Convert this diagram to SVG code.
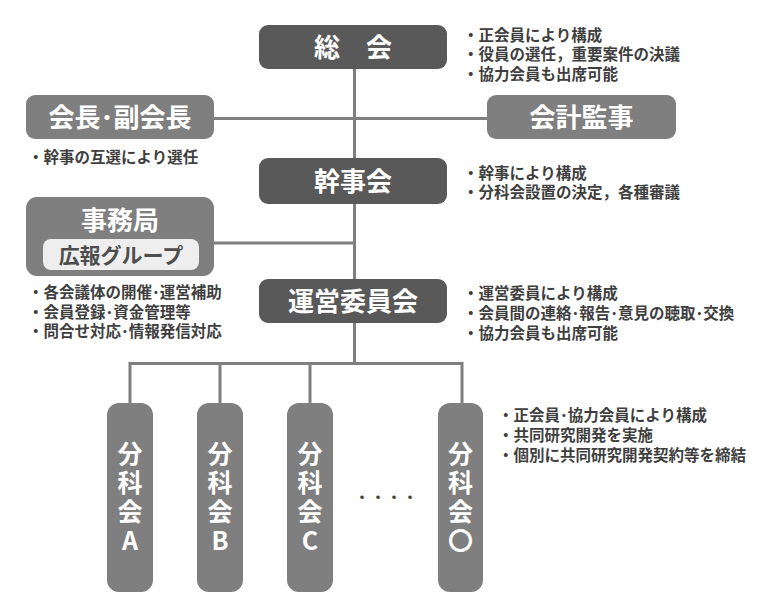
<svg xmlns="http://www.w3.org/2000/svg" width="774" height="616" viewBox="0 0 774 616">
<style>
.dark{fill:#595959}
.light{fill:#7f7f7f}
.inner{fill:#eeeeee}
.t{font-family:"Noto Sans CJK JP","Noto Sans",sans-serif;font-weight:700;fill:#ffffff;text-anchor:middle}
.big{font-size:26px}
.v{font-family:"Noto Sans CJK JP","Noto Sans",sans-serif;font-weight:700;fill:#ffffff;font-size:25px;writing-mode:vertical-rl;text-orientation:upright;letter-spacing:4px}
.sub{font-size:21px;fill:#4d4d4d}
.n{font-family:"Noto Sans CJK JP","Noto Sans",sans-serif;font-weight:700;font-size:15.5px;fill:#3f3f3f}
.c{stroke:#7f7f7f;stroke-width:3;fill:none}
</style>
<rect width="774" height="616" fill="#ffffff"/>
<g id="connectors">
<line class="c" x1="354.5" y1="69" x2="354.5" y2="363"/>
<line class="c" x1="214" y1="118.5" x2="487" y2="118.5"/>
<line class="c" x1="214" y1="243" x2="354.5" y2="243"/>
<polyline class="c" points="130,403 130,363.5 462,363.5 462,403"/>
<line class="c" x1="220" y1="363.5" x2="220" y2="403"/>
<line class="c" x1="310" y1="363.5" x2="310" y2="403"/>
</g>
<g id="soukai">
<rect class="dark" x="259" y="25" width="188" height="44" rx="9"/>
<text class="t big" x="353" y="56.5">総　会</text>
</g>
<g id="soukai-notes">
<text class="n" x="463" y="40.5">・正会員により構成</text>
<text class="n" x="463" y="60">・役員の選任，重要案件の決議</text>
<text class="n" x="463" y="79.5">・協力会員も出席可能</text>
</g>
<g id="kaicho">
<rect class="light" x="26" y="95" width="188" height="44" rx="9"/>
<text class="t big" x="120" y="127">会長･副会長</text>
</g>
<g id="kaicho-notes">
<text class="n" x="28" y="163">・幹事の互選により選任</text>
</g>
<g id="kansa">
<rect class="light" x="487" y="95" width="189" height="44" rx="9"/>
<text class="t big" x="581.5" y="127">会計監事</text>
</g>
<g id="kanjikai">
<rect class="dark" x="259" y="158" width="188" height="46" rx="9"/>
<text class="t big" x="353" y="191">幹事会</text>
</g>
<g id="kanjikai-notes">
<text class="n" x="463" y="178.5">・幹事により構成</text>
<text class="n" x="463" y="198">・分科会設置の決定，各種審議</text>
</g>
<g id="jimukyoku">
<rect class="light" x="26" y="197" width="188" height="79" rx="11"/>
<text class="t big" x="120" y="230">事務局</text>
<rect class="inner" x="43" y="239" width="156" height="31" rx="8"/>
<text class="t sub" x="121" y="263">広報グループ</text>
</g>
<g id="jimukyoku-notes">
<text class="n" x="28" y="298">・各会議体の開催･運営補助</text>
<text class="n" x="28" y="317.5">・会員登録･資金管理等</text>
<text class="n" x="28" y="337">・問合せ対応･情報発信対応</text>
</g>
<g id="unei">
<rect class="dark" x="259" y="279" width="188" height="44" rx="9"/>
<text class="t big" x="353" y="311">運営委員会</text>
</g>
<g id="unei-notes">
<text class="n" x="463" y="299">・運営委員により構成</text>
<text class="n" x="463" y="319">・会員間の連絡･報告･意見の聴取･交換</text>
<text class="n" x="463" y="339">・協力会員も出席可能</text>
</g>
<g id="bunkakai-a">
<rect class="light" x="107" y="403" width="46" height="189" rx="12"/>
<text class="v" x="130" y="441">分科会A</text>
</g>
<g id="bunkakai-b">
<rect class="light" x="197" y="403" width="46" height="189" rx="12"/>
<text class="v" x="220" y="441">分科会B</text>
</g>
<g id="bunkakai-c">
<rect class="light" x="287" y="403" width="46" height="189" rx="12"/>
<text class="v" x="310" y="441">分科会C</text>
</g>
<text class="n" x="354" y="503" style="font-size:16px;font-weight:400">・・・・</text>
<g id="bunkakai-o">
<rect class="light" x="438" y="403" width="45" height="189" rx="12"/>
<text class="v" x="460.5" y="441">分科会〇</text>
</g>
<g id="bunkakai-notes">
<text class="n" x="498" y="421">・正会員･協力会員により構成</text>
<text class="n" x="498" y="441">・共同研究開発を実施</text>
<text class="n" x="498" y="461">・個別に共同研究開発契約等を締結</text>
</g>
</svg>
